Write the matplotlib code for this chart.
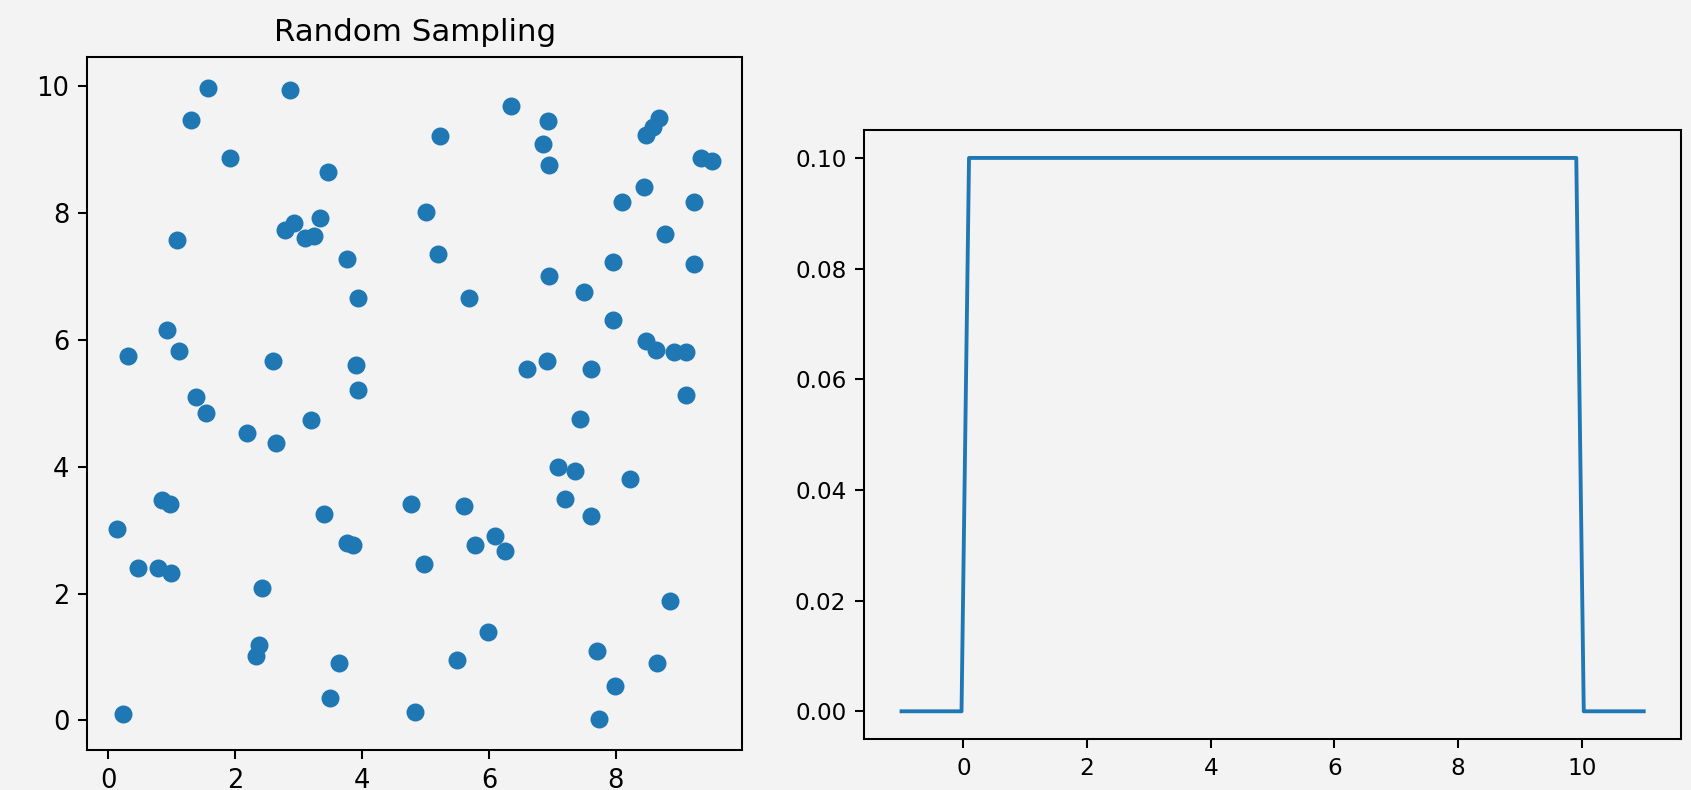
import matplotlib
matplotlib.use('Agg')
import matplotlib.pyplot as plt
import numpy as np

# scatter samples
xs = [1.57, 2.87, 1.30, 1.92, 3.47, 1.09, 2.78, 2.92, 3.10, 3.25,
      3.34, 3.76, 3.93, 0.93, 0.31, 1.12, 2.60, 3.90, 3.93, 1.38,
      1.54, 2.18, 2.65, 3.19, 0.84, 0.97, 0.14, 0.47, 0.79, 0.99,
      3.40, 3.76, 3.86, 2.42, 2.37, 2.33, 3.64, 3.49, 0.23, 4.83,
      4.77, 4.97, 5.60, 5.78, 6.10, 6.25, 5.50, 5.98, 5.00, 5.23,
      5.20, 5.68, 6.34, 6.93, 6.85, 6.95, 6.95, 6.60, 6.92, 7.50,
      7.61, 7.44, 7.09, 7.35, 7.20, 7.61, 7.96, 7.96, 8.09, 8.45,
      8.47, 8.58, 8.68, 8.78, 8.48, 8.63, 8.91, 9.10, 9.10, 9.24,
      9.24, 9.34, 9.52, 8.22, 8.86, 7.70, 8.65, 7.99, 7.74]
ys = [9.97, 9.94, 9.47, 8.87, 8.64, 7.58, 7.73, 7.84, 7.61, 7.64,
      7.92, 7.28, 6.66, 6.16, 5.74, 5.83, 5.66, 5.60, 5.21, 5.10,
      4.85, 4.53, 4.38, 4.74, 3.47, 3.42, 3.02, 2.40, 2.40, 2.32,
      3.26, 2.79, 2.76, 2.08, 1.19, 1.01, 0.90, 0.36, 0.10, 0.13,
      3.42, 2.46, 3.38, 2.76, 2.91, 2.67, 0.96, 1.39, 8.02, 9.21,
      7.35, 6.66, 9.68, 9.45, 9.09, 8.76, 7.01, 5.54, 5.66, 6.75,
      5.54, 4.76, 4.00, 3.94, 3.49, 3.23, 7.23, 6.31, 8.18, 8.41,
      9.23, 9.35, 9.50, 7.67, 5.98, 5.84, 5.81, 5.81, 5.13, 8.17,
      7.20, 8.87, 8.82, 3.80, 1.88, 1.10, 0.90, 0.54, 0.03]

# density line of the right panel (corner points of the step)
pdf_x = [-1.0, -0.0303, 0.0909, 9.9091, 10.0303, 11.0]
pdf_y = [0.0, 0.0, 0.1, 0.1, 0.0, 0.0]

bg = '#f3f3f3'
fig = plt.figure(figsize=(1691/185, 790/185), dpi=185, facecolor=bg)

ax1 = fig.add_axes([0.0517, 0.0506, 0.3871, 0.8778], facecolor=bg)
ax1.scatter(xs, ys, color='#1f77b4')
ax1.set_title('Random Sampling', fontsize=12)
ax1.set_yticks([0, 2, 4, 6, 8, 10])
ax1.set_xticks([0, 2, 4, 6, 8])
ax1.tick_params(labelsize=10)

ax2 = fig.add_axes([0.5112, 0.0646, 0.4828, 0.7705], facecolor=bg)
ax2.plot(pdf_x, pdf_y, color='#1f77b4')
ax2.set_yticks([0.0, 0.02, 0.04, 0.06, 0.08, 0.10])
ax2.set_xticks([0, 2, 4, 6, 8, 10])
ax2.tick_params(labelsize=9)

fig.savefig('out.png', dpi=185, facecolor=bg)
